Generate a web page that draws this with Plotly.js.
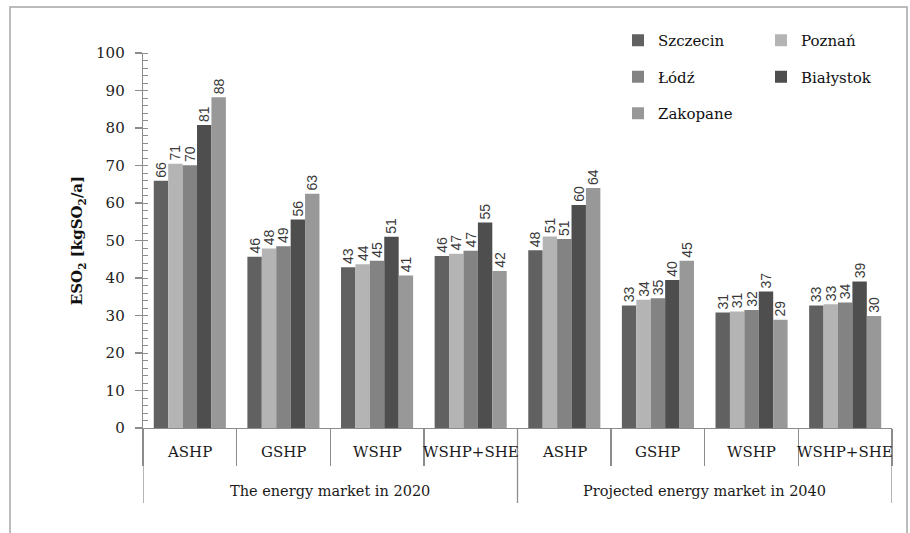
<!DOCTYPE html>
<html>
<head>
<meta charset="utf-8">
<script src="https://cdn.plot.ly/plotly-3.0.1.min.js"></script>
<style>
  html, body { margin: 0; padding: 0; background: #fff; }
  #chart { width: 910px; height: 533px; }
</style>
</head>
<body>
<div id="chart"></div>
<script>
// ---- Data ----
const markets = ["The energy market in 2020", "The energy market in 2020", "The energy market in 2020", "The energy market in 2020",
                 "Projected energy market in 2040", "Projected energy market in 2040", "Projected energy market in 2040", "Projected energy market in 2040"];
const systems = ["ASHP", "GSHP", "WSHP", "WSHP+SHE", "ASHP", "GSHP", "WSHP", "WSHP+SHE"];
const cities = ["Szczecin", "Poznań", "Łódź", "Białystok", "Zakopane"];

const szczecin  = [65.9, 45.7, 42.9, 45.9, 47.4, 32.7, 30.8, 32.7];
const poznan    = [70.5, 47.9, 43.7, 46.5, 51.1, 34.2, 31.1, 33.0];
const lodz      = [70.1, 48.5, 44.6, 47.3, 50.4, 34.6, 31.5, 33.5];
const bialystok = [80.8, 55.6, 51.0, 54.8, 59.5, 39.5, 36.4, 39.1];
const zakopane  = [88.2, 62.5, 40.7, 41.9, 64.0, 44.6, 28.9, 29.9];

const lblSzczecin  = [66, 46, 43, 46, 48, 33, 31, 33];
const lblPoznan    = [71, 48, 44, 47, 51, 34, 31, 33];
const lblLodz      = [70, 49, 45, 47, 51, 35, 32, 34];
const lblBialystok = [81, 56, 51, 55, 60, 40, 37, 39];
const lblZakopane  = [88, 63, 41, 42, 64, 45, 29, 30];

const seriesValues = [szczecin, poznan, lodz, bialystok, zakopane];
const seriesLabels = [lblSzczecin, lblPoznan, lblLodz, lblBialystok, lblZakopane];
const colors = ["#616161", "#b4b4b4", "#838383", "#4e4e4e", "#989898"];
const legendOf = ["legend", "legend2", "legend", "legend2", "legend"];

// category positions on the x axis (one slot per system/market pair)
const idx = systems.map((_, i) => i);

const traces = cities.map((c, i) => ({
  type: "bar",
  name: c,
  x: idx,
  y: seriesValues[i],
  text: seriesLabels[i].map(String),
  textposition: "outside",
  textangle: -90,
  constraintext: "none",
  cliponaxis: false,
  textfont: { family: "Liberation Sans, Arial, sans-serif", size: 14, color: "#3a3a3a" },
  marker: { color: colors[i], line: { width: 0 } },
  legend: legendOf[i],
  legendgroup: "g" + i,
  hoverinfo: "skip"
}));

// plot area geometry (px)
const L = 143, R = 18, T = 53, B = 105, W = 910, H = 533;
const pw = W - L - R, ph = H - T - B;
const px = v => (v - L) / pw;
const py = v => (H - B - v) / ph;

const serif = "'DejaVu Serif', serif";
const axisGray = "#8c8c8c";

// category boundaries and group boundaries
const bounds = [-0.5].concat(idx.map(i => i + 0.5));
const groupNames = [...new Set(markets)];
const groupIdx = groupNames.map(g => idx.filter(i => markets[i] === g));
const groupEdges = [-0.5].concat(groupIdx.map(a => a[a.length - 1] + 0.5));

const annotations = [];
idx.forEach(i => annotations.push({
  xref: "x", yref: "paper", x: i, y: py(452), text: systems[i],
  showarrow: false, xanchor: "center", yanchor: "middle",
  font: { family: serif, size: 15, color: "#1a1a1a" }
}));
groupIdx.forEach((a, g) => annotations.push({
  xref: "x", yref: "paper", x: (a[0] + a[a.length - 1]) / 2, y: py(491), text: groupNames[g],
  showarrow: false, xanchor: "center", yanchor: "middle",
  font: { family: serif, size: 14.5, color: "#1a1a1a" }
}));

const shapes = groupEdges.map(e => ({
  type: "line", xref: "x", yref: "paper", x0: e, x1: e, y0: 0, y1: py(503),
  line: { color: axisGray, width: 1.3 }
}));
shapes.push({
  type: "path", xref: "paper", yref: "paper",
  path: `M ${px(10)} ${py(545)} L ${px(10)} ${py(7)} L ${px(907)} ${py(7)} L ${px(907)} ${py(545)}`,
  line: { color: "#a6a6a6", width: 1.5 }
});

const layout = {
  width: W, height: H,
  margin: { l: L, r: R, t: T, b: B, pad: 0, autoexpand: false },
  paper_bgcolor: "#ffffff",
  plot_bgcolor: "#ffffff",
  barmode: "group",
  bargap: 0.23,
  bargroupgap: 0,
  showlegend: true,
  font: { family: serif, size: 15, color: "#222" },
  xaxis: {
    type: "linear",
    range: [-0.5, idx.length - 0.5],
    tickmode: "array", tickvals: bounds, showticklabels: false,
    showline: true, linecolor: axisGray, linewidth: 1.3,
    ticks: "outside", ticklen: 37, tickcolor: axisGray, tickwidth: 1.3,
    showgrid: false, zeroline: false, fixedrange: true
  },
  yaxis: {
    range: [0, 100], dtick: 10, tick0: 0,
    showline: true, linecolor: axisGray, linewidth: 1.3,
    ticks: "outside", ticklen: 7, tickcolor: axisGray, tickwidth: 1.3,
    ticklabelstandoff: 7,
    minor: { dtick: 2, ticks: "inside", ticklen: 5, tickcolor: axisGray, tickwidth: 1 },
    showgrid: false, zeroline: false,
    tickfont: { family: serif, size: 15, color: "#222" },
    title: { text: "<b>ESO<sub>2</sub> [kgSO<sub>2</sub>/a]</b>", font: { family: serif, size: 15, color: "#111" }, standoff: 9 },
    fixedrange: true
  },
  yaxis2: {
    overlaying: "y", anchor: "x", side: "left",
    range: [0, 100], dtick: 10,
    ticks: "inside", ticklen: 7, tickcolor: axisGray, tickwidth: 1.3,
    showticklabels: false, showgrid: false, zeroline: false, showline: false, fixedrange: true
  },
  legend: {
    xref: "container", yref: "container",
    x: 618 / W, y: 1 - 24 / H, xanchor: "left", yanchor: "top",
    orientation: "v", tracegroupgap: 14, itemclick: false,
    bgcolor: "rgba(0,0,0,0)", borderwidth: 0,
    font: { family: serif, size: 15, color: "#111" }
  },
  legend2: {
    xref: "container", yref: "container",
    x: 761 / W, y: 1 - 24 / H, xanchor: "left", yanchor: "top",
    orientation: "v", tracegroupgap: 14, itemclick: false,
    bgcolor: "rgba(0,0,0,0)", borderwidth: 0,
    font: { family: serif, size: 15, color: "#111" }
  },
  annotations: annotations,
  shapes: shapes
};

Plotly.newPlot("chart", traces, layout, { displayModeBar: false, staticPlot: true });
</script>
</body>
</html>
